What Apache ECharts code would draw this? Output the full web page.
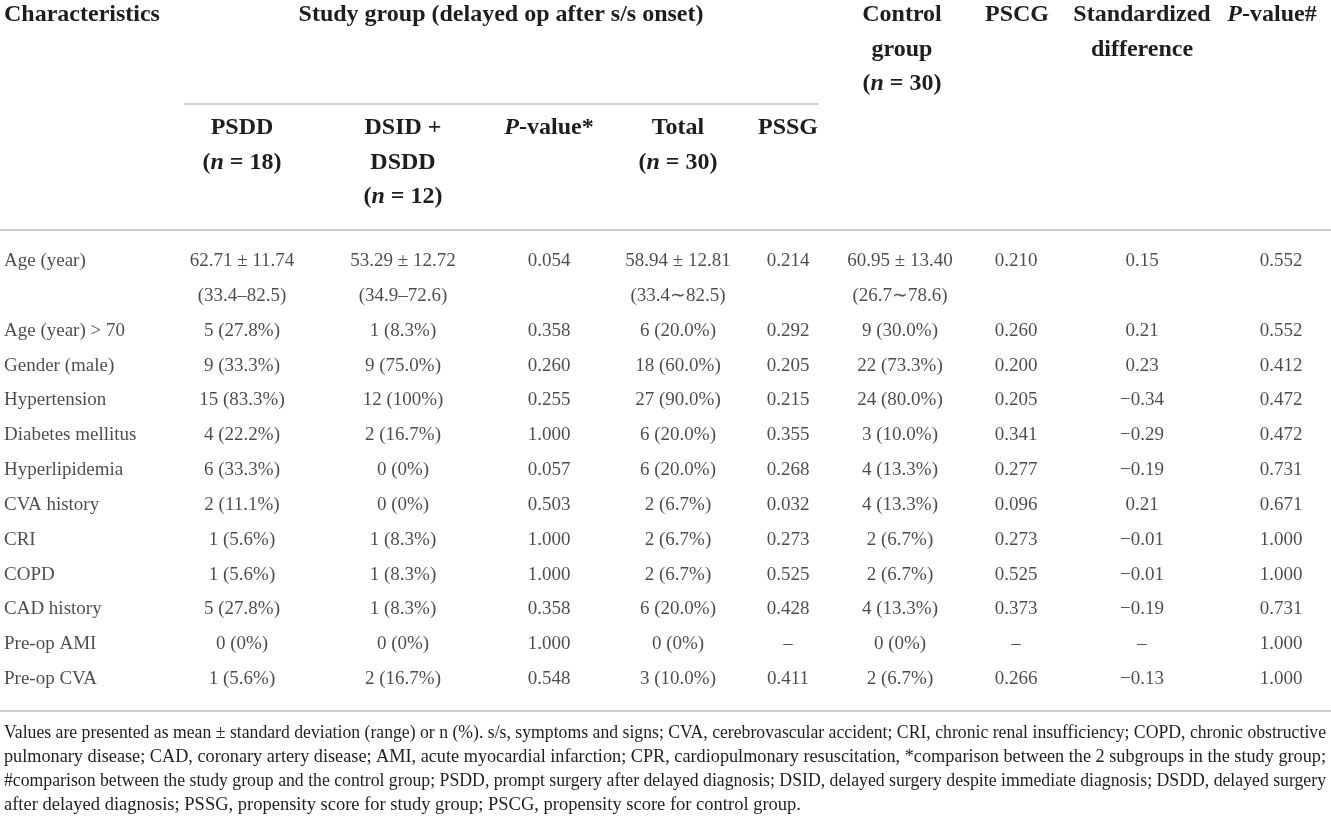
<!DOCTYPE html>
<html>
<head>
<meta charset="utf-8">
<script src="https://cdn.jsdelivr.net/npm/echarts@6/dist/echarts.min.js"></script>
<style>
  html, body { margin: 0; padding: 0; background: #fff; }
  #chart { width: 1331px; height: 818px; }
</style>
</head>
<body>
<div id="chart"></div>
<script>
// table values, one array per column
const characteristics = ['Age (year)', 'Age (year) > 70', 'Gender (male)', 'Hypertension', 'Diabetes mellitus',
  'Hyperlipidemia', 'CVA history', 'CRI', 'COPD', 'CAD history', 'Pre-op AMI', 'Pre-op CVA']
const psdd = ['62.71 ± 11.74\n(33.4–82.5)', '5 (27.8%)', '9 (33.3%)', '15 (83.3%)', '4 (22.2%)', '6 (33.3%)',
  '2 (11.1%)', '1 (5.6%)', '1 (5.6%)', '5 (27.8%)', '0 (0%)', '1 (5.6%)']
const dsidDsdd = ['53.29 ± 12.72\n(34.9–72.6)', '1 (8.3%)', '9 (75.0%)', '12 (100%)', '2 (16.7%)', '0 (0%)',
  '0 (0%)', '1 (8.3%)', '1 (8.3%)', '1 (8.3%)', '0 (0%)', '2 (16.7%)']
const pSubgroups = ['0.054', '0.358', '0.260', '0.255', '1.000', '0.057', '0.503', '1.000', '1.000', '0.358', '1.000', '0.548']
const studyTotal = ['58.94 ± 12.81\n(33.4∼82.5)', '6 (20.0%)', '18 (60.0%)', '27 (90.0%)', '6 (20.0%)', '6 (20.0%)',
  '2 (6.7%)', '2 (6.7%)', '2 (6.7%)', '6 (20.0%)', '0 (0%)', '3 (10.0%)']
const pssg = ['0.214', '0.292', '0.205', '0.215', '0.355', '0.268', '0.032', '0.273', '0.525', '0.428', '–', '0.411']
const controlGroup = ['60.95 ± 13.40\n(26.7∼78.6)', '9 (30.0%)', '22 (73.3%)', '24 (80.0%)', '3 (10.0%)', '4 (13.3%)',
  '4 (13.3%)', '2 (6.7%)', '2 (6.7%)', '4 (13.3%)', '0 (0%)', '2 (6.7%)']
const pscg = ['0.210', '0.260', '0.200', '0.205', '0.341', '0.277', '0.096', '0.273', '0.525', '0.373', '–', '0.266']
const stdDifference = ['0.15', '0.21', '0.23', '−0.34', '−0.29', '−0.19', '0.21', '−0.01', '−0.01', '−0.19', '–', '−0.13']
const pGroups = ['0.552', '0.552', '0.412', '0.472', '0.472', '0.731', '0.671', '1.000', '1.000', '0.731', '1.000', '1.000']

const columns = [characteristics, psdd, dsidDsdd, pSubgroups, studyTotal, pssg, controlGroup, pscg, stdDifference, pGroups]

// header texts ({bi|..} = bold italic)
const studyGroupTitle = 'Study group (delayed op after s/s onset)'
const topHeaders = [
  ['Characteristics'], null, null, null, null, null,
  ['Control', 'group', '({bi|n} = 30)'], ['PSCG'], ['Standardized', 'difference'], ['{bi|P}-value#']
]
const subHeaders = [
  null, ['PSDD', '({bi|n} = 18)'], ['DSID +', 'DSDD', '({bi|n} = 12)'], ['{bi|P}-value*'], ['Total', '({bi|n} = 30)'], ['PSSG']
]

const footnote = [
  'Values are presented as mean ± standard deviation (range) or n (%). s/s, symptoms and signs; CVA, cerebrovascular accident; CRI, chronic renal insufficiency; COPD, chronic obstructive',
  'pulmonary disease; CAD, coronary artery disease; AMI, acute myocardial infarction; CPR, cardiopulmonary resuscitation, *comparison between the 2 subgroups in the study group;',
  '#comparison between the study group and the control group; PSDD, prompt surgery after delayed diagnosis; DSID, delayed surgery despite immediate diagnosis; DSDD, delayed surgery',
  'after delayed diagnosis; PSSG, propensity score for study group; PSCG, propensity score for control group.'
]

// layout
const W = 1331
const FONT = '"Liberation Serif", "Times New Roman", serif'
const TEXT = '#1e1e1e'
const RULE = '#cfcfcf'
const colX = [4, 242, 403, 549, 678, 788, 900, 1016, 1142, 1281]
const headX = [4, 242, 403, 549, 678, 788, 902, 1017, 1142, 1272]
const rowTop = 261
const rowStep = 34.85
const headTop = 15
const subTop = 128
const headStep = 34.5
const headSize = 24
const bodySize = 19
const footSize = 18.5

// each table row takes as many slots as its tallest cell
const slotOf = []
let slotCount = 0
characteristics.forEach((_, r) => {
  slotOf.push(slotCount)
  slotCount += Math.max(...columns.map(col => col[r].split('\n').length))
})
const slots = Array.from({ length: slotCount }, (_, i) => String(i))

const series = columns.map((col, c) => ({
  type: 'scatter',
  symbolSize: 0,
  silent: true,
  data: col.flatMap((cell, r) => cell.split('\n').map((line, k) => [colX[c], slotOf[r] + k, line])),
  label: {
    show: true,
    position: 'inside',
    align: c === 0 ? 'left' : 'center',
    verticalAlign: 'middle',
    formatter: p => p.value[2],
    fontFamily: FONT,
    fontSize: bodySize,
    color: TEXT
  }
}))

const rich = {
  bi: { fontFamily: FONT, fontSize: headSize, fontWeight: 'bold', fontStyle: 'italic', fill: TEXT, color: TEXT }
}

const headText = (text, x, y, left) => ({
  type: 'text',
  x, y,
  silent: true,
  style: {
    text,
    rich,
    fontFamily: FONT,
    fontSize: headSize,
    fontWeight: 'bold',
    fill: TEXT,
    align: left ? 'left' : 'center',
    verticalAlign: 'middle',
    textAlign: left ? 'left' : 'center',
    textVerticalAlign: 'middle'
  }
})

const graphics = []
topHeaders.forEach((lines, c) => {
  if (!lines) return
  lines.forEach((t, k) => graphics.push(headText(t, headX[c], headTop + k * headStep, c === 0)))
})
subHeaders.forEach((lines, c) => {
  if (!lines) return
  lines.forEach((t, k) => graphics.push(headText(t, headX[c], subTop + k * headStep, false)))
})
graphics.push(headText(studyGroupTitle, 501, headTop, false))

const rule = (x1, x2, y) => ({
  type: 'line',
  silent: true,
  shape: { x1, y1: y, x2, y2: y },
  style: { stroke: RULE, lineWidth: 2 }
})
graphics.push(rule(184, 818, 104), rule(0, W, 230), rule(0, W, 711))

// footnote, justified like the journal layout
const ctx = document.createElement('canvas').getContext('2d')
ctx.font = footSize + 'px ' + FONT
const footLeft = 4
const footRight = 1326
const avail = footRight - footLeft
const footStyle = text => ({
  text, fontFamily: FONT, fontSize: footSize, fill: TEXT,
  align: 'left', verticalAlign: 'middle', textAlign: 'left', textVerticalAlign: 'middle'
})
footnote.forEach((line, i) => {
  const y = 733 + i * 24
  const natural = ctx.measureText(line).width
  const last = i === footnote.length - 1
  if (last || natural > avail) {
    // one piece, squeezed a little if the serif runs wider than the original face
    const sx = last ? 1 : avail / natural
    graphics.push({ type: 'text', x: footLeft, y, scaleX: sx, silent: true, style: footStyle(line) })
    return
  }
  const words = line.split(' ')
  const widths = words.map(w => ctx.measureText(w).width)
  const used = widths.reduce((a, b) => a + b, 0)
  const gap = (avail - used) / (words.length - 1)
  let x = footLeft
  words.forEach((w, k) => {
    graphics.push({ type: 'text', x, y, silent: true, style: footStyle(w) })
    x += widths[k] + gap
  })
})

const chart = echarts.init(document.getElementById('chart'))
chart.setOption({
  animation: false,
  backgroundColor: '#fff',
  grid: { left: 0, right: 0, top: rowTop - rowStep / 2, height: rowStep * slotCount },
  xAxis: { type: 'value', min: 0, max: W, show: false },
  yAxis: { type: 'category', data: slots, inverse: true, show: false },
  series,
  graphic: graphics
})
</script>
</body>
</html>
